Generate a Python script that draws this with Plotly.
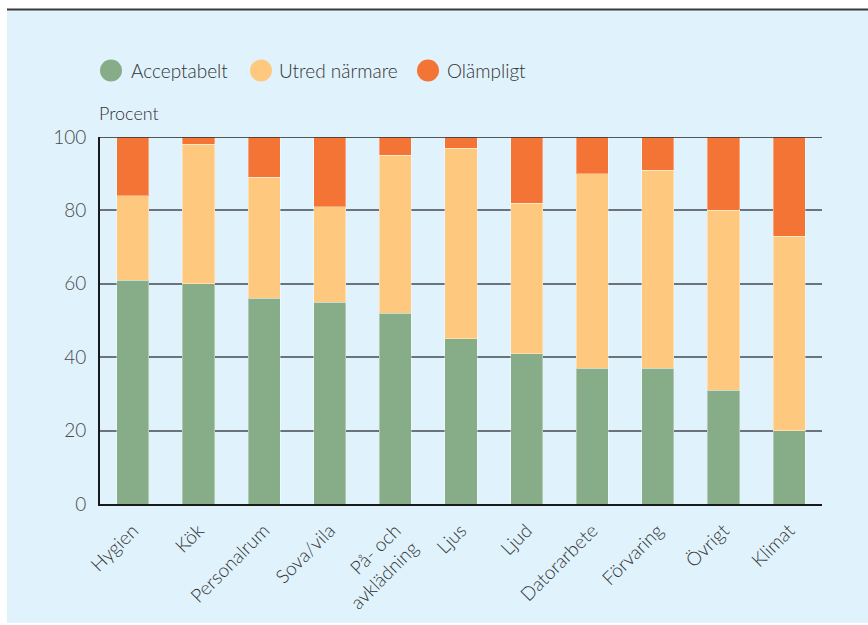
import plotly.graph_objects as go

categories = ["Hygien", "Kök", "Personalrum", "Sova/vila", "På- och<br>avklädning",
              "Ljus", "Ljud", "Datorarbete", "Förvaring", "Övrigt", "Klimat"]
acceptabelt = [61, 60, 56, 55, 52, 45, 41, 37, 37, 31, 20]
utred_narmare = [23, 38, 33, 26, 43, 52, 41, 53, 54, 49, 53]
olampligt = [16, 2, 11, 19, 5, 3, 18, 10, 9, 20, 27]

series_names = ["Acceptabelt", "Utred närmare", "Olämpligt"]
series_values = [acceptabelt, utred_narmare, olampligt]
colors = ["#87ad88", "#fec97f", "#f47435"]

W, H = 868, 625
ML, MR, MT, MB = 100, 46, 137, 118
PW = W - ML - MR
PH = H - MT - MB


def px_x(p):
    return (p - ML) / PW


def px_y(q):
    return (H - MB - q) / PH


FONT = "Lato"
WEIGHT = 300

fig = go.Figure()
for name, vals, col in zip(series_names, series_values, colors):
    fig.add_trace(go.Bar(
        x=categories, y=vals, name=name,
        marker=dict(color=col, line=dict(color="rgba(255,255,255,0.35)", width=1)),
        width=0.49, showlegend=False,
    ))

shapes = [
    # blue panel background
    dict(type="rect", xref="paper", yref="paper", layer="below",
         x0=px_x(7), x1=px_x(W + 2), y0=px_y(H + 2), y1=px_y(9),
         fillcolor="#e0f2fc", line=dict(width=0)),
    # top rule
    dict(type="line", xref="paper", yref="paper",
         x0=px_x(7), x1=px_x(W + 2), y0=px_y(8.5), y1=px_y(8.5),
         line=dict(color="#3a3a3a", width=2)),
    # darker top gridline
    dict(type="line", xref="paper", yref="y", x0=0, x1=1, y0=100, y1=100,
         line=dict(color="#222222", width=1.5)),
]

annotations = [
    dict(text="Procent", xref="paper", yref="paper", x=px_x(97), y=px_y(113),
         xanchor="left", yanchor="middle", showarrow=False,
         font=dict(family=FONT, size=18, color="#333333", weight=WEIGHT)),
]

legend_circle_x = [111, 261, 428]
legend_text_x = [129, 277, 445]
legend_y = 70
for name, col, cx, tx in zip(series_names, colors, legend_circle_x, legend_text_x):
    shapes.append(dict(type="circle", xref="paper", yref="paper",
                       xsizemode="pixel", ysizemode="pixel",
                       xanchor=px_x(cx), yanchor=px_y(legend_y),
                       x0=-11, x1=11, y0=-11, y1=11,
                       fillcolor=col, line=dict(width=0)))
    annotations.append(dict(text=name, xref="paper", yref="paper",
                            x=px_x(tx), y=px_y(legend_y),
                            xanchor="left", yanchor="middle", showarrow=False,
                            font=dict(family=FONT, size=19, color="#333333", weight=WEIGHT)))

fig.update_layout(
    width=W, height=H,
    margin=dict(l=ML, r=MR, t=MT, b=MB, pad=0),
    barmode="stack",
    paper_bgcolor="white",
    plot_bgcolor="rgba(0,0,0,0)",
    font=dict(family=FONT, color="#333333", weight=WEIGHT),
    shapes=shapes,
    annotations=annotations,
    showlegend=False,
)

fig.update_xaxes(
    range=[-0.5, 10.5],
    showline=True, linecolor="#1a1a1a", linewidth=2,
    showgrid=False, ticks="", tickangle=-45, ticklabelstandoff=6,
    tickfont=dict(family=FONT, size=19, color="#333333", weight=WEIGHT),
)
fig.update_yaxes(
    range=[0, 100], tickvals=[0, 20, 40, 60, 80, 100],
    showline=True, linecolor="#1a1a1a", linewidth=2,
    showgrid=True, gridcolor="#6b747b", gridwidth=1.5,
    zeroline=False, ticks="", ticklabelstandoff=8,
    tickfont=dict(family=FONT, size=19, color="#4a4a4a", weight=WEIGHT),
)

fig.write_html("out.html")
